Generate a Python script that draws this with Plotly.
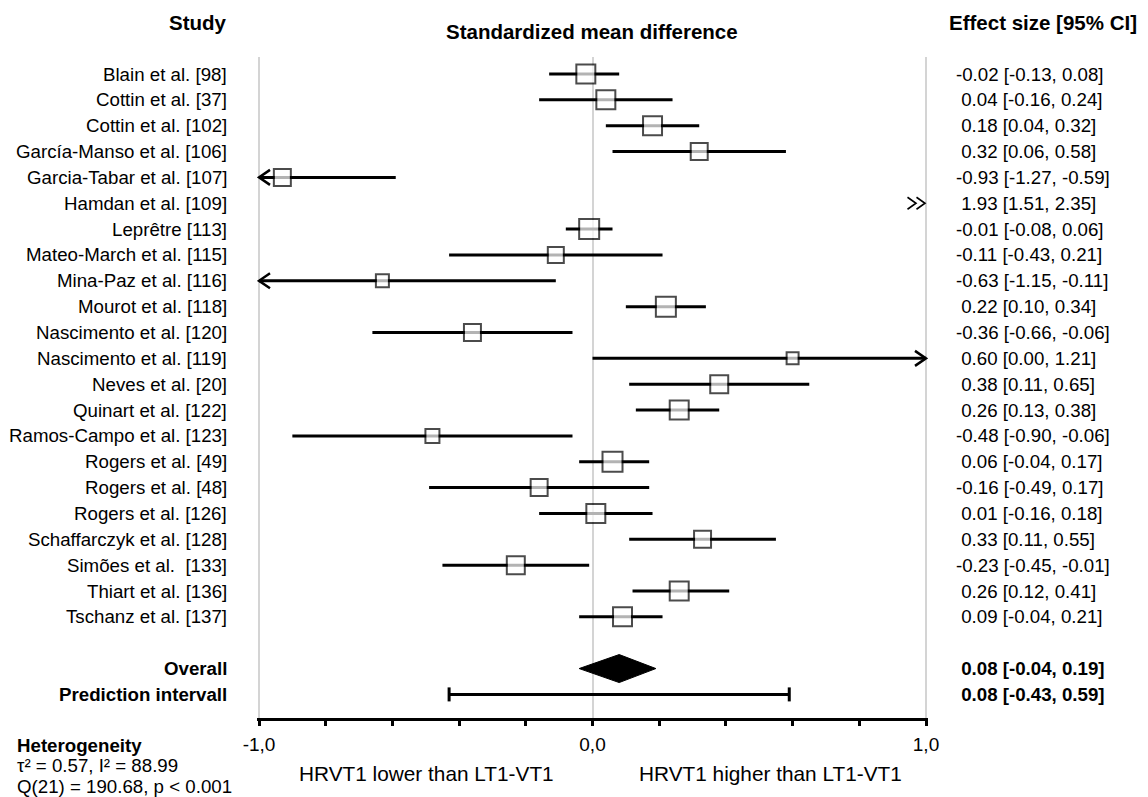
import plotly.graph_objects as go

# ---------------- data ----------------
studies = ["Blain et al. [98]", "Cottin et al. [37]", "Cottin et al. [102]",
           "García-Manso et al. [106]", "Garcia-Tabar et al. [107]", "Hamdan et al. [109]",
           "Leprêtre [113]", "Mateo-March et al. [115]", "Mina-Paz et al. [116]",
           "Mourot et al. [118]", "Nascimento et al. [120]", "Nascimento et al. [119]",
           "Neves et al. [20]", "Quinart et al. [122]", "Ramos-Campo et al. [123]",
           "Rogers et al. [49]", "Rogers et al. [48]", "Rogers et al. [126]",
           "Schaffarczyk et al. [128]", "Simões et al.  [133]", "Thiart et al. [136]",
           "Tschanz et al. [137]"]
smd = [-0.02, 0.04, 0.18, 0.32, -0.93, 1.93, -0.01, -0.11, -0.63, 0.22, -0.36, 0.60,
       0.38, 0.26, -0.48, 0.06, -0.16, 0.01, 0.33, -0.23, 0.26, 0.09]
ci_low = [-0.13, -0.16, 0.04, 0.06, -1.27, 1.51, -0.08, -0.43, -1.15, 0.10, -0.66, 0.00,
          0.11, 0.13, -0.90, -0.04, -0.49, -0.16, 0.11, -0.45, 0.12, -0.04]
ci_high = [0.08, 0.24, 0.32, 0.58, -0.59, 2.35, 0.06, 0.21, -0.11, 0.34, -0.06, 1.21,
           0.65, 0.38, -0.06, 0.17, 0.17, 0.18, 0.55, -0.01, 0.41, 0.21]
weight_pct = [5.18, 5.18, 5.18, 4.24, 4.24, 4.24, 5.69, 3.81, 2.65, 5.69, 4.24, 2.30,
              4.70, 5.18, 3.01, 5.69, 4.24, 5.18, 4.24, 4.70, 5.18, 5.18]

overall = (0.08, -0.04, 0.19)
prediction = (0.08, -0.43, 0.59)
heterogeneity = ["τ² = 0.57, I² = 88.99", "Q(21) = 190.68, p < 0.001"]
tick_values = [-1.0, 0.0, 1.0]
tick_labels = ["-1,0", "0,0", "1,0"]
minor_ticks = [-0.8, -0.6, -0.4, -0.2, 0.2, 0.4, 0.6, 0.8]
x_min, x_max = -1.0, 1.0

# ---------------- geometry helpers ----------------
W, H = 1148, 797
L, R, T, B = 257, 928, 57, 718
XR = [-1.006, 1.006]
ROW0, ROWSTEP = 74, 25.85
YR = [(B - ROW0) / ROWSTEP, (T - ROW0) / ROWSTEP]
PX_PER_UNIT = (R - L) / (XR[1] - XR[0])


def px_x(px):
    return (px - L) / (R - L)


def px_y(py):
    return (B - py) / (B - T)


FONT = "Liberation Sans, Arial, sans-serif"
FS = 18.7

n = len(studies)
rows = list(range(n))
row_overall = n + 1
row_pred = n + 2

# ---------------- traces ----------------
fig = go.Figure()

line_x, line_y = [], []
arrow_x, arrow_y = [], []
dbl_x, dbl_y = [], []
adx = 11 / PX_PER_UNIT
ady = 7.5 / ROWSTEP
for i in rows:
    lo, hi = ci_low[i], ci_high[i]
    if lo >= x_max:
        # entirely off scale to the right: double chevron at the edge
        w = 8.5 / PX_PER_UNIT
        hgt = 6 / ROWSTEP
        for tip in (x_max - 1 / PX_PER_UNIT, x_max - 10 / PX_PER_UNIT):
            dbl_x += [tip - w, tip, tip - w, None]
            dbl_y += [i - hgt, i, i + hgt, None]
        continue
    a, b = max(lo, x_min), min(hi, x_max)
    line_x += [a, b, None]
    line_y += [i, i, None]
    if lo < x_min:
        arrow_x += [x_min + adx, x_min, x_min + adx, None]
        arrow_y += [i - ady, i, i + ady, None]
    if hi > x_max:
        arrow_x += [x_max - adx, x_max, x_max - adx, None]
        arrow_y += [i - ady, i, i + ady, None]

fig.add_trace(go.Scatter(x=line_x, y=line_y, mode="lines",
                         line=dict(color="black", width=3), hoverinfo="skip",
                         cliponaxis=False))
fig.add_trace(go.Scatter(x=arrow_x, y=arrow_y, mode="lines",
                         line=dict(color="black", width=2.5), hoverinfo="skip",
                         cliponaxis=False))
fig.add_trace(go.Scatter(x=dbl_x, y=dbl_y, mode="lines",
                         line=dict(color="black", width=1.6), hoverinfo="skip",
                         cliponaxis=False))

sq_x = [smd[i] for i in rows if x_min <= smd[i] <= x_max]
sq_y = [i for i in rows if x_min <= smd[i] <= x_max]
sq_s = [9.22 * (weight_pct[i] ** 0.5) - 2 for i in rows if x_min <= smd[i] <= x_max]
fig.add_trace(go.Scatter(x=sq_x, y=sq_y, mode="markers",
                         marker=dict(symbol="square", size=sq_s, color="white",
                                     line=dict(color="black", width=2)),
                         hoverinfo="skip"))

# overall diamond
est, lo, hi = overall
dh = 14 / ROWSTEP
fig.add_trace(go.Scatter(x=[lo, est, hi, est, lo],
                         y=[row_overall, row_overall - dh, row_overall, row_overall + dh, row_overall],
                         mode="lines", fill="toself", fillcolor="black",
                         line=dict(color="black", width=1), hoverinfo="skip"))

# prediction interval
est, lo, hi = prediction
fig.add_trace(go.Scatter(x=[lo, hi], y=[row_pred, row_pred], mode="lines+markers",
                         line=dict(color="black", width=3),
                         marker=dict(symbol="line-ns", size=10,
                                     line=dict(color="black", width=3)),
                         hoverinfo="skip"))

# ---------------- annotations ----------------
ann = []


def txt(text, x, y, xanchor="left", yref="paper", size=FS, bold=False):
    if bold:
        text = "<b>" + text + "</b>"
    ann.append(dict(text=text, x=x, y=y, xref="paper", yref=yref, xanchor=xanchor,
                    yanchor="middle", showarrow=False,
                    font=dict(family=FONT, size=size, color="black")))


def fmt(e, l, h):
    s = f"{e:.2f} [{l:.2f}, {h:.2f}]"
    return s if e < 0 else "\u00a0" + s


for i in rows:
    txt(studies[i], px_x(229), i, xanchor="right", yref="y")
    txt(fmt(smd[i], ci_low[i], ci_high[i]), px_x(954), i, yref="y")

txt("Overall", px_x(229), row_overall, xanchor="right", yref="y", bold=True)
txt("Prediction intervall", px_x(229), row_pred, xanchor="right", yref="y", bold=True)
txt(fmt(*overall), px_x(954), row_overall, yref="y", bold=True)
txt(fmt(*prediction), px_x(954), row_pred, yref="y", bold=True)

txt("Study", px_x(229), px_y(23), xanchor="right", size=20.5, bold=True)
txt("Standardized mean difference", px_x(592), px_y(31), xanchor="center", size=20.5, bold=True)
txt("Effect size [95% CI]", px_x(947), px_y(23), size=20.5, bold=True)

txt("HRVT1 lower than LT1-VT1", px_x(426), px_y(773), xanchor="center", size=20.8)
txt("HRVT1 higher than LT1-VT1", px_x(770), px_y(773), xanchor="center", size=20.8)

txt("Heterogeneity", px_x(15), px_y(745), bold=True)
txt(heterogeneity[0], px_x(15), px_y(765))
txt(heterogeneity[1], px_x(15), px_y(786))

fig.update_layout(
    width=W, height=H,
    margin=dict(l=L, r=W - R, t=T, b=H - B, pad=0),
    plot_bgcolor="white", paper_bgcolor="white",
    showlegend=False,
    annotations=ann,
    xaxis=dict(range=XR, tickmode="array", tickvals=tick_values, ticktext=tick_labels,
               ticks="outside", ticklen=5, tickwidth=2.5, tickcolor="black",
               showline=True, linewidth=3, linecolor="black",
               showgrid=True, gridcolor="#d4d4d4", gridwidth=1.5, zeroline=False,
               minor=dict(tickvals=minor_ticks, ticks="outside", ticklen=5, tickwidth=2.5,
                          tickcolor="black", showgrid=False),
               tickfont=dict(family=FONT, size=19, color="black"),
               ticklabelstandoff=2, fixedrange=True),
    yaxis=dict(range=YR, visible=False, showgrid=False, zeroline=False, fixedrange=True),
)

fig.write_html("out.html", config={"displayModeBar": False})
